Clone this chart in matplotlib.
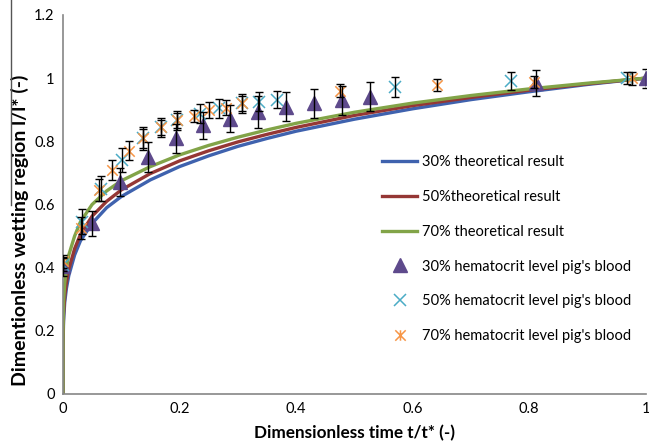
import numpy as np
import matplotlib
matplotlib.use("Agg")
import matplotlib.pyplot as plt
from matplotlib.path import Path
from matplotlib.lines import Line2D

plt.rcParams['font.family'] = ['Lato', 'DejaVu Sans']

# theoretical curves
t_theory = [0, 1e-5, 1e-4, 0.001, 0.003, 0.006, 0.01, 0.02, 0.03, 0.05, 0.075, 0.1,
            0.15, 0.2, 0.25, 0.3, 0.35, 0.4, 0.5, 0.6, 0.7, 0.8, 0.9, 1.0]
theory_30 = [0, 0.09, 0.15, 0.23, 0.29, 0.335, 0.375, 0.44, 0.485, 0.54, 0.59, 0.625,
             0.678, 0.72, 0.754, 0.784, 0.809, 0.832, 0.870, 0.903, 0.932, 0.957, 0.98, 1.0]
theory_50 = [0, 0.10, 0.165, 0.25, 0.31, 0.355, 0.395, 0.46, 0.505, 0.563, 0.61, 0.646,
             0.698, 0.738, 0.77, 0.798, 0.822, 0.844, 0.882, 0.913, 0.939, 0.962, 0.982, 1.0]
theory_70 = [0, 0.12, 0.19, 0.29, 0.35, 0.40, 0.44, 0.50, 0.545, 0.60, 0.643, 0.675,
             0.72, 0.757, 0.787, 0.813, 0.836, 0.857, 0.892, 0.921, 0.945, 0.966, 0.984, 1.0]

# experiments: pig's blood
t30 = [0.0, 0.05, 0.098, 0.146, 0.194, 0.24, 0.287, 0.334, 0.383, 0.43, 0.479, 0.527, 0.811, 1.0]
y30 = [0.405, 0.54, 0.672, 0.751, 0.809, 0.851, 0.872, 0.893, 0.909, 0.920, 0.930, 0.941, 0.985, 1.0]
e30 = [0.03, 0.04, 0.045, 0.047, 0.046, 0.043, 0.044, 0.05, 0.046, 0.045, 0.046, 0.046, 0.04, 0.03]

t50 = [0.0, 0.033, 0.066, 0.101, 0.138, 0.168, 0.195, 0.235, 0.267, 0.307, 0.336, 0.368, 0.569, 0.769, 0.968]
y50 = [0.41, 0.545, 0.65, 0.741, 0.809, 0.845, 0.866, 0.888, 0.904, 0.92, 0.925, 0.932, 0.972, 0.99, 1.0]
e50 = [0.02, 0.04, 0.04, 0.038, 0.035, 0.03, 0.03, 0.03, 0.03, 0.03, 0.03, 0.027, 0.031, 0.029, 0.02]

t70 = [0.0, 0.031, 0.061, 0.085, 0.113, 0.138, 0.168, 0.195, 0.224, 0.251, 0.28, 0.307, 0.475, 0.641, 0.808, 0.977]
y70 = [0.42, 0.525, 0.646, 0.709, 0.770, 0.809, 0.844, 0.866, 0.880, 0.899, 0.907, 0.92, 0.96, 0.978, 0.988, 0.999]
e70 = [0.02, 0.035, 0.035, 0.032, 0.03, 0.03, 0.025, 0.025, 0.02, 0.025, 0.025, 0.025, 0.02, 0.018, 0.02, 0.02]

x_ticks = [0, 0.2, 0.4, 0.6, 0.8, 1]
x_ticklabels = ['0', '0.2', '0.4', '0.6', '0.8', '1']
y_ticks = [0, 0.2, 0.4, 0.6, 0.8, 1, 1.2]
y_ticklabels = ['0', '0.2', '0.4', '0.6', '0.8', '1', '1.2']

# asterisk like the Excel star marker
star = Path([(-1, -1), (1, 1), (-1, 1), (1, -1), (0, -1), (0, 1)],
            [Path.MOVETO, Path.LINETO, Path.MOVETO, Path.LINETO, Path.MOVETO, Path.LINETO])

fig = plt.figure(figsize=(6.49, 4.42), dpi=100)
ax = fig.add_axes([0.097, 0.1086, 0.898, 0.8575])

ax.plot(t_theory, theory_30, color='#3F62AE', lw=2.4, label='30% theoretical result', zorder=2)
ax.plot(t_theory, theory_50, color='#953735', lw=2.4, label='50%theoretical result', zorder=2)
ax.plot(t_theory, theory_70, color='#82A448', lw=2.4, label='70% theoretical result', zorder=2)

ax.plot(t30, y30, ls='none', marker='^', ms=9.5, color='#5E4A8C', mec='#5E4A8C',
        label="30% hematocrit level pig's blood", zorder=3)
ax.plot(t50, y50, ls='none', marker='x', ms=8, mew=1.1, color='#4BACC6',
        label="50% hematocrit level pig's blood", zorder=3)
ax.plot(t70, y70, ls='none', marker=star, ms=7.5, mew=1.1, color='#F79646',
        label="70% hematocrit level pig's blood", zorder=3)

for t, y, e in [(t30, y30, e30), (t50, y50, e50), (t70, y70, e70)]:
    ax.errorbar(t, y, yerr=e, fmt='none', ecolor='black', elinewidth=1.0,
                capsize=3, capthick=1.0, zorder=4)

ax.set_xlim(0, 1)
ax.set_ylim(0, 1.2)
ax.set_xticks(x_ticks)
ax.set_xticklabels(x_ticklabels)
ax.set_yticks(y_ticks)
ax.set_yticklabels(y_ticklabels)
ax.tick_params(length=0, labelsize=10.5, pad=6)
for s in ['top', 'right']:
    ax.spines[s].set_visible(False)
for s in ['left', 'bottom']:
    ax.spines[s].set_color('#868686')
    ax.spines[s].set_linewidth(1.2)

ax.set_xlabel('Dimensionless time t/t* (-)', fontsize=12.3, fontweight='bold', labelpad=6)
ax.set_ylabel('Dimentionless wetting region l/l* (-)', fontsize=14, fontweight='bold')
ax.yaxis.set_label_coords(-0.058, 0.433)

ax.legend(loc='upper left', bbox_to_anchor=(0.525, 0.664), frameon=False, fontsize=10.5,
          labelspacing=1.42, handlelength=2.4, handletextpad=0.35)

# stray line over the y label in the original
fig.add_artist(Line2D([10.5 / 649, 10.5 / 649], [1, 1 - 205 / 442], color='#555555', lw=1))

fig.savefig('out.png', dpi=100)
